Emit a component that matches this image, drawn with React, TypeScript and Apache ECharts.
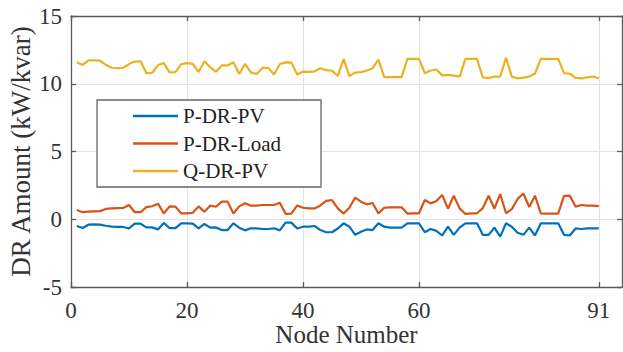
import React, { useEffect, useRef } from "react";
import * as echarts from "echarts";

const xTicks = [0, 20, 40, 60, 91];
const yTicks = [-5, 0, 5, 10, 15];

const seriesNames = ["P-DR-PV", "P-DR-Load", "Q-DR-PV"];

const pDrPv = [
  -0.5, -0.64, -0.4, -0.38, -0.4, -0.48, -0.55, -0.56, -0.57, -0.68,
  -0.33, -0.33, -0.6, -0.6, -0.75, -0.27, -0.66, -0.66, -0.3, -0.3,
  -0.33, -0.68, -0.35, -0.62, -0.6, -0.8, -0.8, -0.3, -0.62, -0.82,
  -0.67, -0.67, -0.72, -0.72, -0.67, -0.82, -0.25, -0.25, -0.68, -0.55,
  -0.55, -0.5, -0.8, -0.96, -0.96, -0.68, -0.3, -0.55, -1.15, -0.92,
  -0.75, -0.8, -0.3, -0.55, -0.62, -0.62, -0.62, -0.3, -0.3, -0.3,
  -0.96, -0.72, -0.86, -1.2, -0.55, -1.15, -0.62, -0.3, -0.3, -0.3,
  -1.15, -1.15, -0.62, -1.28, -0.3, -0.55, -1.0, -1.15, -0.62, -1.2,
  -0.3, -0.3, -0.3, -0.3, -1.15, -1.2, -0.68, -0.72, -0.68, -0.68,
  -0.68,
];

const pDrLoad = [
  0.69, 0.52, 0.56, 0.58, 0.6, 0.76, 0.8, 0.82, 0.83, 1.05,
  0.52, 0.52, 0.9, 0.96, 1.15, 0.42, 0.95, 0.93, 0.44, 0.44,
  0.48, 0.95, 0.55, 1.0, 0.92, 1.3, 1.3, 0.42, 0.95, 1.18,
  1.0, 1.0, 1.05, 1.05, 1.05, 1.22, 0.4, 0.42, 1.02, 0.85,
  0.8, 0.8, 1.02, 1.35, 1.42, 0.8, 0.42, 0.85, 1.6, 1.3,
  1.1, 1.2, 0.42, 0.85, 0.88, 0.88, 0.88, 0.42, 0.44, 0.44,
  1.42, 1.17, 1.34, 1.79, 0.78, 1.74, 0.8, 0.39, 0.44, 0.44,
  0.82, 1.74, 0.78, 1.86, 0.44, 0.75, 1.5, 1.9, 0.9, 1.74,
  0.44, 0.42, 0.42, 0.42, 1.72, 1.74, 0.93, 1.05, 1.0, 1.0,
  0.97,
];

const qDrPv = [
  11.58, 11.39, 11.72, 11.72, 11.7, 11.4, 11.18, 11.15, 11.18, 11.45,
  11.64, 11.66, 10.78, 10.81, 11.38, 11.52, 10.84, 10.86, 11.45, 11.52,
  11.47, 10.86, 11.66, 11.22, 10.88, 11.35, 11.35, 11.58, 10.72, 11.46,
  10.84, 10.72, 11.17, 11.17, 10.68, 11.46, 11.58, 11.56, 10.68, 10.9,
  10.88, 10.92, 11.15, 11.0, 10.96, 10.58, 11.82, 10.57, 10.82, 10.86,
  10.98, 11.15, 11.78, 10.49, 10.49, 10.49, 10.49, 11.84, 11.84, 11.84,
  10.78, 10.98, 11.05, 10.62, 10.65, 10.6, 10.52, 11.84, 11.84, 11.84,
  10.46, 10.43, 10.52, 10.52, 11.92, 10.52, 10.4, 10.45, 10.53, 10.75,
  11.84, 11.84, 11.84, 11.84, 10.78, 10.74, 10.43, 10.4, 10.47, 10.53,
  10.4,
];

const colors = ["#0072BD", "#D95319", "#EDB120"];
const FONT = "'Liberation Serif', 'Times New Roman', serif";

export default function App() {
  const ref = useRef<HTMLDivElement>(null);
  useEffect(() => {
    if (!ref.current) return;
    const chart = echarts.init(ref.current, null, { renderer: "svg" });
    const toPairs = (arr: number[]) => arr.map((v, i) => [i + 1, v]);
    const axisLineStyle = { color: "#5a5a5a", width: 1.3 };
    const labelStyle = { fontFamily: FONT, fontSize: 23, color: "#333" };
    chart.setOption({
      animation: false,
      backgroundColor: "#fff",
      textStyle: { fontFamily: FONT },
      grid: { left: 71, top: 16, right: 1, bottom: 65, containLabel: false, outerBoundsMode: "none" },
      legend: {
        orient: "vertical",
        left: 97,
        top: 100,
        padding: [4, 40, 4, 36],
        itemGap: 3.5,
        itemWidth: 45,
        itemHeight: 2.6,
        icon: "rect",
        borderColor: "#666",
        borderWidth: 1.3,
        backgroundColor: "#fff",
        textStyle: { fontFamily: FONT, fontSize: 21, color: "#222", lineHeight: 24 },
        data: seriesNames,
      },
      xAxis: [
        {
          type: "value",
          min: 0,
          max: 95,
          position: "bottom",
          name: "Node Number",
          nameLocation: "middle",
          nameGap: 34,
          nameMoveOverlap: false,
          nameTextStyle: { fontFamily: FONT, fontSize: 25, color: "#333", lineHeight: 27 },
          axisLine: { show: true, onZero: false, lineStyle: axisLineStyle },
          axisTick: { show: true, inside: true, length: 5, customValues: xTicks, lineStyle: axisLineStyle },
          axisLabel: { ...labelStyle, margin: 12, customValues: xTicks },
          splitLine: { show: true, lineStyle: { color: "#e3e3e3", width: 1 } },
        },
        {
          type: "value",
          min: 0,
          max: 95,
          position: "top",
          axisLine: { show: true, onZero: false, lineStyle: axisLineStyle },
          axisTick: { show: true, inside: true, length: 5, customValues: xTicks, lineStyle: axisLineStyle },
          axisLabel: { show: false },
          splitLine: { show: false },
        },
      ],
      yAxis: [
        {
          type: "value",
          min: -5,
          max: 15,
          interval: 5,
          name: "DR Amount (kW/kvar)",
          nameLocation: "middle",
          nameGap: 37,
          nameMoveOverlap: false,
          nameTextStyle: { fontFamily: FONT, fontSize: 27, color: "#333" },
          axisLine: { show: true, onZero: false, lineStyle: axisLineStyle },
          axisTick: { show: true, inside: true, length: 5, lineStyle: axisLineStyle },
          axisLabel: { ...labelStyle, margin: 9, customValues: yTicks },
          splitLine: { show: true, lineStyle: { color: "#e3e3e3", width: 1 } },
        },
        {
          type: "value",
          min: -5,
          max: 15,
          interval: 5,
          position: "right",
          axisLine: { show: true, onZero: false, lineStyle: axisLineStyle },
          axisTick: { show: true, inside: true, length: 5, lineStyle: axisLineStyle },
          axisLabel: { show: false },
          splitLine: { show: false },
        },
      ],
      series: [
        { name: seriesNames[0], type: "line", data: toPairs(pDrPv), color: colors[0] },
        { name: seriesNames[1], type: "line", data: toPairs(pDrLoad), color: colors[1] },
        { name: seriesNames[2], type: "line", data: toPairs(qDrPv), color: colors[2] },
      ].map((s) => ({
        ...s,
        symbol: "none",
        lineStyle: { width: 2.2, color: s.color },
        itemStyle: { color: s.color },
        emphasis: { disabled: true },
      })),
    });
    return () => chart.dispose();
  }, []);
  return (
    <div
      ref={ref}
      style={{ position: "absolute", left: 0, top: 0, width: 623, height: 352, background: "#fff" }}
    />
  );
}
